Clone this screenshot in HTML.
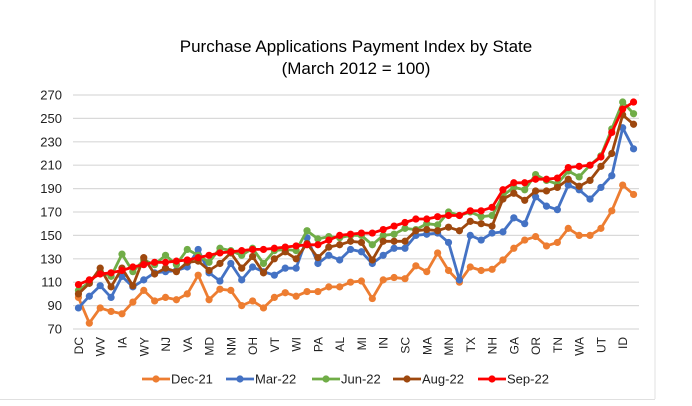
<!DOCTYPE html>
<html><head><meta charset="utf-8"><style>
html,body{margin:0;padding:0;background:#fff;}
svg{display:block;font-family:"Liberation Sans",sans-serif;}
</style></head><body>
<svg id="chart" width="692" height="406" viewBox="0 0 692 406" xmlns="http://www.w3.org/2000/svg">
<rect x="0" y="0" width="692" height="406" fill="#fff"/>
<line x1="655" y1="0" x2="655" y2="399" stroke="#e0e0e0" stroke-width="1"/>
<line x1="0" y1="399.5" x2="655" y2="399.5" stroke="#e0e0e0" stroke-width="1"/>
<text x="356" y="52" text-anchor="middle" font-size="17" fill="#000">Purchase Applications Payment Index by State</text>
<text x="356" y="74" text-anchor="middle" font-size="17" fill="#000">(March 2012 = 100)</text>
<g id="grid"></g>
<g id="yaxis"></g>
<g id="xaxis"></g>
<g id="series"></g>
<g id="legend"></g>
</svg>
<script>
const categories = ["DC","","WV","","IA","","WY","","NJ","","VA","","MD","","NM","","OH","","VT","","WI","","PA","","AL","","MI","","IN","","SC","","MA","","MN","","TX","","NH","","GA","","OR","","TN","","WA","","UT","","ID",""];
const yTicks = [70,90,110,130,150,170,190,210,230,250,270];
const seriesNames = ["Dec-21","Mar-22","Jun-22","Aug-22","Sep-22"];
const seriesColors = ["#ed7d31","#4472c4","#70ad47","#9e480e","#ff0000"];
const dec21 = [97,75,88,85,83,93,103,94,97,95,100,116,95,104,103,90,94,88,97,101,98,102,102,106,106,110,111,96,112,114,113,124,119,135,120,110,123,120,121,129,139,146,149,141,144,156,150,150,156,171,193,185];
const mar22 = [88,98,107,97,115,106,112,118,119,120,123,138,118,111,126,112,123,119,116,122,122,148,126,133,129,138,136,126,133,139,139,150,151,152,144,112,150,146,152,153,165,160,183,175,172,193,189,181,191,201,242,224];
const jun22 = [103,110,119,115,134,119,129,125,133,125,138,133,127,139,137,133,139,126,137,138,137,154,147,149,148,150,150,142,150,151,156,155,160,159,170,167,170,166,167,184,191,189,202,197,194,205,200,210,218,241,264,254];
const aug22 = [100,109,122,106,122,107,131,117,122,119,127,128,120,126,135,122,132,118,130,136,130,143,131,140,142,145,144,129,145,145,145,154,155,154,157,154,162,160,158,181,186,180,188,188,191,198,192,197,209,220,253,245];
const sep22 = [108,112,117,118,120,123,125,127,127,128,129,131,133,135,136,137,138,138,139,140,141,142,142,146,150,151,152,152,155,158,161,164,164,166,167,167,171,171,174,189,195,195,198,198,199,208,209,210,217,238,258,264];
const allSeries = [dec21,mar22,jun22,aug22,sep22];
const NS="http://www.w3.org/2000/svg";
const plotL=73, plotR=639, yTop=95, yBot=329, vMin=70, vMax=270;
const step=(plotR-plotL)/categories.length;
function xPos(i){return plotL+step*(i+0.5);}
function yPos(v){return yBot-(v-vMin)/(vMax-vMin)*(yBot-yTop);}
function mk(tag,attrs,parent){const e=document.createElementNS(NS,tag);for(const k in attrs)e.setAttribute(k,attrs[k]);parent.appendChild(e);return e;}
const grid=document.getElementById('grid'),yax=document.getElementById('yaxis'),xax=document.getElementById('xaxis'),ser=document.getElementById('series'),leg=document.getElementById('legend');
yTicks.forEach(t=>{
  const l=mk('line',{x1:plotL,x2:plotR,y1:yPos(t),y2:yPos(t),stroke:'#d9d9d9','stroke-width':1.2},grid);
  
  
  const tx=mk('text',{x:62,y:yPos(t)+4.5,'text-anchor':'end','font-size':13,fill:'#222'},yax);
  tx.textContent=t;
  
  
});
categories.forEach((c,i)=>{
  if(!c)return;
  const x=xPos(i);
  const tx=mk('text',{x:0,y:0,'text-anchor':'end','font-size':12,fill:'#222',transform:`translate(${x+4.5},337) rotate(-90)`},xax);
  tx.textContent=c;
  
  
});
allSeries.forEach((data,s)=>{
  const g=mk('g',{},ser);
  
  
  const pts=data.map((v,i)=>xPos(i).toFixed(1)+','+yPos(v).toFixed(1)).join(' ');
  const pl=mk('polyline',{points:pts,fill:'none',stroke:seriesColors[s],'stroke-width':2.8,'stroke-linejoin':'round'},g);
  
  
  data.forEach((v,i)=>{
    const c=mk('circle',{cx:xPos(i),cy:yPos(v),r:3.6,fill:seriesColors[s]},g);
    
    
  });
});
const legX=[142,226,312,393,478];
seriesNames.forEach((n,s)=>{
  const g=mk('g',{},leg);
  
  
  mk('line',{x1:legX[s],x2:legX[s]+28,y1:379,y2:379,stroke:seriesColors[s],'stroke-width':2.8},g);
  mk('circle',{cx:legX[s]+14,cy:379,r:3.6,fill:seriesColors[s]},g);
  const t=mk('text',{x:legX[s]+29,y:383.5,'font-size':13,fill:'#222'},g);
  t.textContent=n;
});
</script>
</body></html>
